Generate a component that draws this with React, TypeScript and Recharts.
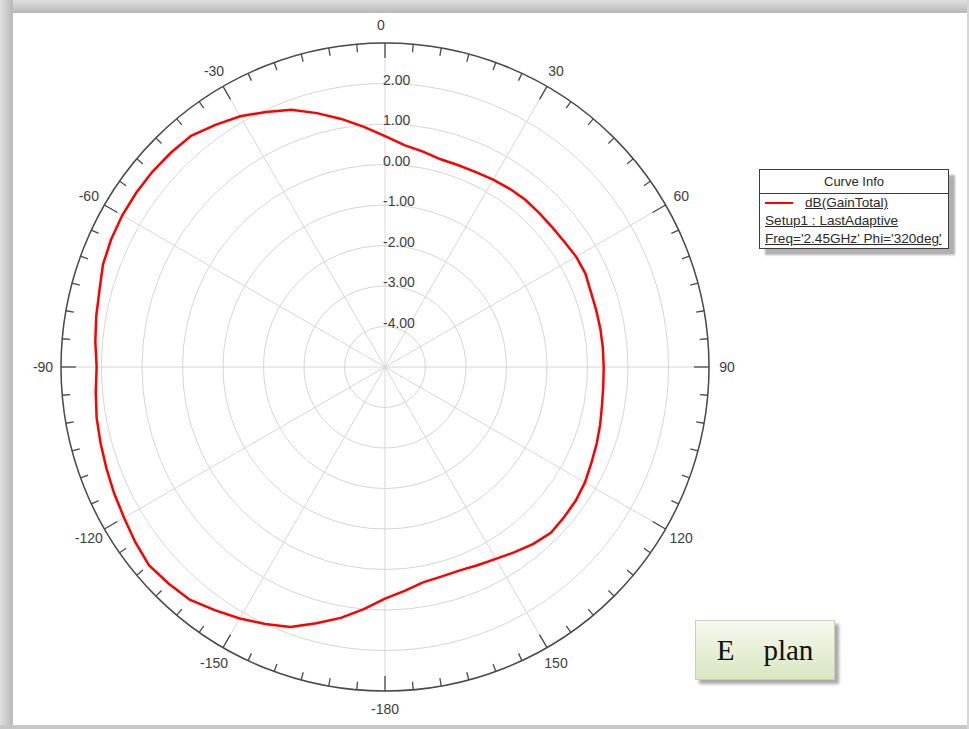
import React from 'react';
import { RadarChart, Radar, PolarGrid, PolarAngleAxis, PolarRadiusAxis } from 'recharts';

// compass angle (deg, 0 at top, clockwise) of every sample
const THETA: number[] = [
  0, 5, 10, 15, 20, 25, 30, 35, 40, 45, 50, 55, 60, 65, 70, 75, 80, 85,
  90, 95, 100, 105, 110, 115, 120, 125, 130, 135, 140, 145, 150, 155, 160, 165, 170, 175,
  -180, -175, -170, -165, -160, -155, -150, -145, -140, -135, -130, -125, -120, -115, -110, -105, -100, -95,
  -90, -85, -80, -75, -70, -65, -60, -55, -50, -45, -40, -35, -30, -25, -20, -15, -10, -5,
];

// dB(GainTotal)
const GAIN: number[] = [
  0.7, 0.5, 0.4, 0.31, 0.3, 0.31, 0.34, 0.37, 0.39, 0.38, 0.38, 0.4, 0.45, 0.46, 0.41, 0.4, 0.4, 0.4,
  0.4, 0.41, 0.44, 0.5, 0.56, 0.62, 0.7, 0.75, 0.77, 0.79, 0.7, 0.58, 0.47, 0.4, 0.35, 0.36, 0.4, 0.55,
  0.72, 1.0, 1.29, 1.55, 1.83, 2.0, 2.17, 2.33, 2.5, 2.56, 2.61, 2.53, 2.44, 2.38, 2.32, 2.27, 2.23, 2.17,
  2.12, 2.18, 2.24, 2.3, 2.41, 2.46, 2.49, 2.5, 2.5, 2.48, 2.45, 2.3, 2.15, 1.95, 1.76, 1.49, 1.22, 0.95,
];

const RADIUS_TICKS: number[] = [-5, -4, -3, -2, -1, 0, 1, 2, 3];
const RADIUS_LABELED: number[] = [-4, -3, -2, -1, 0, 1, 2];
const SPOKES: number[] = [0, 30, 60, 90, 120, 150, 180, 210, 240, 270, 300, 330];
const LEGEND_LINES: string[] = ['dB(GainTotal)', 'Setup1 : LastAdaptive', "Freq='2.45GHz' Phi='320deg'"];

const data = THETA.map((t, i) => ({ theta: t, gain: GAIN[i] }));

const CX = 385;
const CY = 367;
const R = 324;
const FONT = '"Liberation Sans", Arial, sans-serif';
const TEXT = '#3d3d3d';

const AngleTick = (props: any) => {
  const { payload } = props;
  const deg: number = payload.value;
  const a = (payload.coordinate * Math.PI) / 180;
  const major = deg % 30 === 0;
  const len = major ? 15 : 8;
  const x1 = CX + R * Math.cos(a);
  const y1 = CY - R * Math.sin(a);
  const x2 = CX + (R - len) * Math.cos(a);
  const y2 = CY - (R - len) * Math.sin(a);
  const lx = CX + (R + 18) * Math.cos(a);
  const ly = CY - (R + 18) * Math.sin(a);
  return (
    <g>
      <line x1={x1} y1={y1} x2={x2} y2={y2} stroke="#4a4a4a" strokeWidth={1.3} />
      {major && (
        <text x={lx - (deg === 0 ? 4 : 0)} y={ly} textAnchor="middle" dominantBaseline="central" fontFamily={FONT} fontSize={14} fill={TEXT}>
          {String(deg)}
        </text>
      )}
    </g>
  );
};

const RadiusTick = (props: any) => {
  const { x, y, payload } = props;
  const v: number = payload.value;
  if (!RADIUS_LABELED.includes(v)) return <g />;
  return (
    <text x={x - 2} y={y + 1} textAnchor="start" fontFamily={FONT} fontSize={14} fill={TEXT}>
      {v.toFixed(2)}
    </text>
  );
};

export default function App() {
  return (
    <div style={{ position: 'absolute', left: 0, top: 0, width: 969, height: 729, background: '#ffffff', overflow: 'hidden' }}>
      {/* frame */}
      <div style={{ position: 'absolute', left: 0, top: 0, width: 969, height: 13, background: 'linear-gradient(to bottom, #e0e0e0, #b8b8b8)' }} />
      <div style={{ position: 'absolute', left: 0, top: 0, width: 13, height: 729, background: 'linear-gradient(to right, #e0e0e0, #b8b8b8)' }} />
      <div style={{ position: 'absolute', left: 0, top: 725, width: 969, height: 4, background: '#c6c6c6' }} />
      <div style={{ position: 'absolute', left: 967, top: 0, width: 2, height: 729, background: '#d6d6d6' }} />

      <div style={{ position: 'absolute', left: 0, top: 0 }}>
        <RadarChart
          width={969}
          height={729}
          cx={CX}
          cy={CY}
          outerRadius={R}
          startAngle={90}
          endAngle={-270}
          data={data}
          margin={{ top: 0, right: 0, bottom: 0, left: 0 }}
        >
          <PolarGrid gridType="circle" stroke="#d6d6d6" strokeWidth={1} polarAngles={SPOKES.map((d) => 90 - d)} />
          <PolarAngleAxis
            dataKey="theta"
            axisLineType="circle"
            axisLine={{ stroke: '#4a4a4a', strokeWidth: 1.5 }}
            tickLine={false}
            tick={<AngleTick />}
          />
          <PolarRadiusAxis
            angle={90}
            type="number"
            domain={[-5, 3]}
            ticks={RADIUS_TICKS}
            axisLine={false}
            tickLine={false}
            tick={<RadiusTick />}
          />
          <Radar
            dataKey="gain"
            stroke="#ff0000"
            strokeWidth={2.5}
            fill="none"
            fillOpacity={0}
            dot={false}
            isAnimationActive={false}
          />
        </RadarChart>
      </div>

      {/* Curve Info legend */}
      <div
        style={{
          position: 'absolute',
          left: 759,
          top: 169,
          width: 188,
          height: 78,
          border: '1px solid #3c3c3c',
          background: '#ffffff',
          boxShadow: '6px 6px 2px #b0b0b0',
          fontFamily: FONT,
          color: '#2a2a2a',
        }}
      >
        <div style={{ height: 23, lineHeight: '23px', textAlign: 'center', fontSize: 13, borderBottom: '1px solid #3c3c3c' }}>
          Curve Info
        </div>
        <div style={{ position: 'relative', height: 18, lineHeight: '18px', fontSize: 13.6 }}>
          <div style={{ position: 'absolute', left: 5, top: 8, width: 28, height: 2, background: '#ff0000' }} />
          <span style={{ position: 'absolute', left: 45, textDecoration: 'underline', whiteSpace: 'nowrap' }}>{LEGEND_LINES[0]}</span>
        </div>
        <div style={{ height: 18, lineHeight: '18px', fontSize: 13.6, paddingLeft: 5, textDecoration: 'underline', whiteSpace: 'nowrap' }}>
          {LEGEND_LINES[1]}
        </div>
        <div style={{ height: 18, lineHeight: '18px', fontSize: 13.6, paddingLeft: 5, textDecoration: 'underline', whiteSpace: 'nowrap' }}>
          {LEGEND_LINES[2]}
        </div>
      </div>

      {/* E plan box */}
      <div
        style={{
          position: 'absolute',
          left: 695,
          top: 620,
          width: 140,
          height: 60,
          border: '1px solid #c9d2b8',
          background: 'linear-gradient(to bottom, #f6f9ee, #d9e6c2)',
          boxShadow: '4px 4px 3px #a9a9a9',
          boxSizing: 'border-box',
          display: 'flex',
          alignItems: 'center',
          justifyContent: 'center',
          fontFamily: '"Liberation Serif", "Times New Roman", serif',
          fontSize: 29,
          color: '#111',
          whiteSpace: 'pre',
        }}
      >
        {'E    plan'}
      </div>
    </div>
  );
}
